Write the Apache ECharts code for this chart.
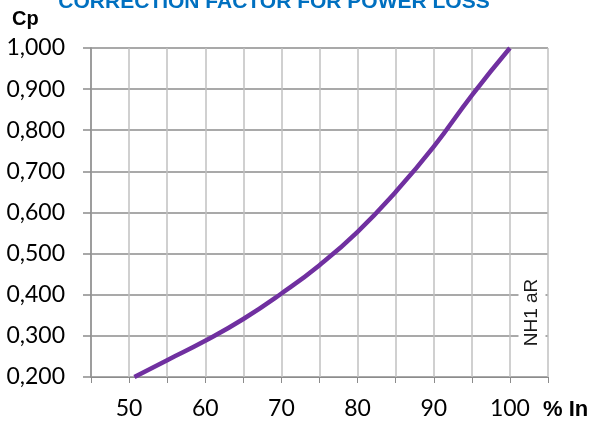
<!DOCTYPE html>
<html>
<head>
<meta charset="utf-8">
<script src="https://cdn.jsdelivr.net/npm/echarts@6/dist/echarts.min.js"></script>
<style>
html,body{margin:0;padding:0;background:#fff;}
#c{width:592px;height:423px;}
</style>
</head>
<body>
<div id="c"></div>
<script>
const titleText = 'CORRECTION FACTOR FOR POWER LOSS';
const yName = 'Cp';
const xName = '% In';
const seriesLabel = 'NH1 aR';
const xValues = [50.7, 55, 60, 65, 70, 75, 80, 85, 90, 95, 100];
const cpValues = [0.200, 0.241, 0.288, 0.341, 0.403, 0.472, 0.553, 0.650, 0.760, 0.885, 1.000];

const chart = echarts.init(document.getElementById('c'), null, {renderer: 'canvas'});
const option = {
  animation: false,
  backgroundColor: '#ffffff',
  grid: {left: 91, right: 44, top: 48, bottom: 46, containLabel: false},
  xAxis: {
    type: 'value', min: 45, max: 105, interval: 5,
    axisLine: {show: true, lineStyle: {color: '#8c8c8c', width: 1}},
    axisTick: {show: true, length: 6, lineStyle: {color: '#8c8c8c'}},
    splitLine: {show: true, lineStyle: {color: '#c0c0c0', width: 1.5}},
    axisLabel: {
      margin: 20, fontFamily: 'Lato', fontSize: 23, color: '#000',
      formatter: v => (v % 10 === 0 && v >= 50 && v <= 100) ? String(v) : ''
    }
  },
  yAxis: {
    type: 'value', min: 0.2, max: 1.0, interval: 0.1,
    axisLine: {show: true, lineStyle: {color: '#8c8c8c', width: 1.5}},
    axisTick: {show: true, length: 8, lineStyle: {color: '#8c8c8c', width: 1.5}},
    splitLine: {show: true, lineStyle: {color: '#8c8c8c', width: 1.5}},
    axisLabel: {
      margin: 26, fontFamily: 'Lato', fontSize: 23, color: '#000',
      formatter: v => v.toFixed(3).replace('.', ',')
    }
  },
  series: [{
    type: 'line', smooth: true, showSymbol: false,
    data: xValues.map((x, i) => [x, cpValues[i]]),
    lineStyle: {color: '#7030A0', width: 4.5},
    itemStyle: {color: '#7030A0'},
    z: 5
  }],
  graphic: [
    {type: 'text', x: 274, y: 2, z: 10,
     style: {text: titleText, fill: '#0070C0', font: 'bold 21px "Liberation Sans", Arial', textAlign: 'center', textVerticalAlign: 'middle'}},
    {type: 'text', x: 12, y: 19, z: 10,
     style: {text: yName, fill: '#000', font: 'bold 20px "Liberation Sans", Arial', textAlign: 'left', textVerticalAlign: 'middle'}},
    {type: 'text', x: 543, y: 409.5, z: 10,
     style: {text: xName, fill: '#000', font: 'bold 22px "Liberation Sans", Arial', textAlign: 'left', textVerticalAlign: 'middle'}},
    {type: 'text', x: 532, y: 312.5, rotation: Math.PI / 2, z: 10,
     style: {text: seriesLabel, fill: '#1a1a1a', font: '19px "Liberation Sans", Arial', textAlign: 'center', textVerticalAlign: 'middle',
       backgroundColor: '#ffffff', padding: [4, 4, 4, 4]}}
  ]
};
chart.setOption(option);
</script>
</body>
</html>
